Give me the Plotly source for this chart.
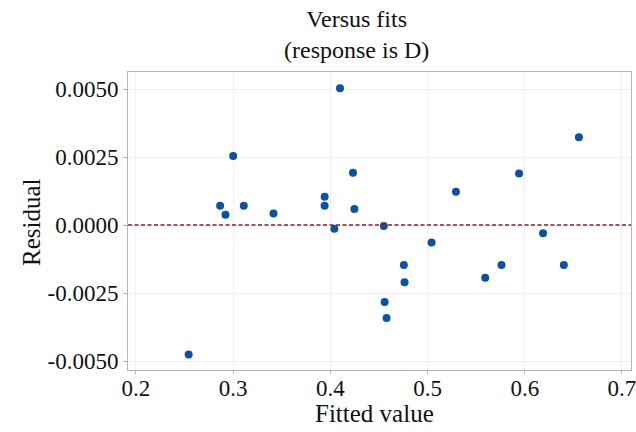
import plotly.graph_objects as go

fitted = [0.2542, 0.2866, 0.2921, 0.3000, 0.3109, 0.3415, 0.3941, 0.3941, 0.4041, 0.4099,
          0.4233, 0.4247, 0.4550, 0.4558, 0.4578, 0.4756, 0.4763, 0.5041, 0.5292, 0.5593,
          0.5761, 0.5941, 0.6188, 0.6402, 0.6557]
residual = [-0.00476, 0.00071, 0.00038, 0.00254, 0.00071, 0.00042, 0.00104, 0.00071, -0.00014, 0.00503,
            0.00192, 0.00059, -0.00004, -0.00283, -0.00342, -0.00147, -0.00210, -0.00064, 0.00122, -0.00194,
            -0.00147, 0.00189, -0.00030, -0.00147, 0.00323]

x_ticks = [0.2, 0.3, 0.4, 0.5, 0.6, 0.7]
x_tick_labels = ["0.2", "0.3", "0.4", "0.5", "0.6", "0.7"]
y_ticks = [-0.005, -0.0025, 0.0, 0.0025, 0.005]
y_tick_labels = ["-0.0050", "-0.0025", "0.0000", "0.0025", "0.0050"]

FONT = "Liberation Serif"

fig = go.Figure()
fig.add_hline(y=0, line=dict(color="#9a1a1a", width=1.3, dash="4px,2.5px"))
fig.add_trace(go.Scatter(
    x=fitted, y=residual, mode="markers",
    marker=dict(color="#0a52a5", size=8, line=dict(width=0)),
    showlegend=False,
))

fig.add_annotation(
    text="Versus fits<br>(response is D)", xref="paper", yref="paper",
    x=(356 - 128) / 503, y=1 + (72 - 34) / 298, xanchor="center", yanchor="middle",
    showarrow=False, font=dict(family=FONT, size=24, color="#111111"),
)
fig.add_annotation(
    text="Fitted value", xref="paper", yref="paper",
    x=(374 - 128) / 503, y=-(413 - 370) / 298, xanchor="center", yanchor="middle",
    showarrow=False, font=dict(family=FONT, size=25, color="#111111"),
)
fig.add_annotation(
    text="Residual", xref="paper", yref="paper", textangle=-90,
    x=-(128 - 31) / 503, y=(370 - 222) / 298, xanchor="center", yanchor="middle",
    showarrow=False, font=dict(family=FONT, size=25, color="#111111"),
)

fig.update_layout(
    width=636, height=432,
    margin=dict(l=128, r=5, t=72, b=62, autoexpand=False),
    paper_bgcolor="white", plot_bgcolor="white",
    font=dict(family=FONT, color="#111111"),
)
fig.update_xaxes(
    range=[0.1918, 0.7093], tickmode="array", tickvals=x_ticks, ticktext=x_tick_labels,
    tickfont=dict(size=23), showgrid=True, gridcolor="#f0f0f0", gridwidth=1,
    showline=True, linecolor="#b4b4b4", linewidth=1, mirror=True,
    ticks="outside", ticklen=3, tickcolor="#b4b4b4", zeroline=False,
    ticklabeloverflow="allow", automargin=False, ticklabelstandoff=-6,
)
fig.update_yaxes(
    range=[-0.00533, 0.005625], tickvals=y_ticks, ticktext=y_tick_labels,
    tickfont=dict(size=23), showgrid=True, gridcolor="#f0f0f0", gridwidth=1,
    showline=True, linecolor="#b4b4b4", linewidth=1, mirror=True,
    ticks="outside", ticklen=4, tickcolor="#b4b4b4", zeroline=False,
    automargin=False,
)

fig.write_html("out.html")
